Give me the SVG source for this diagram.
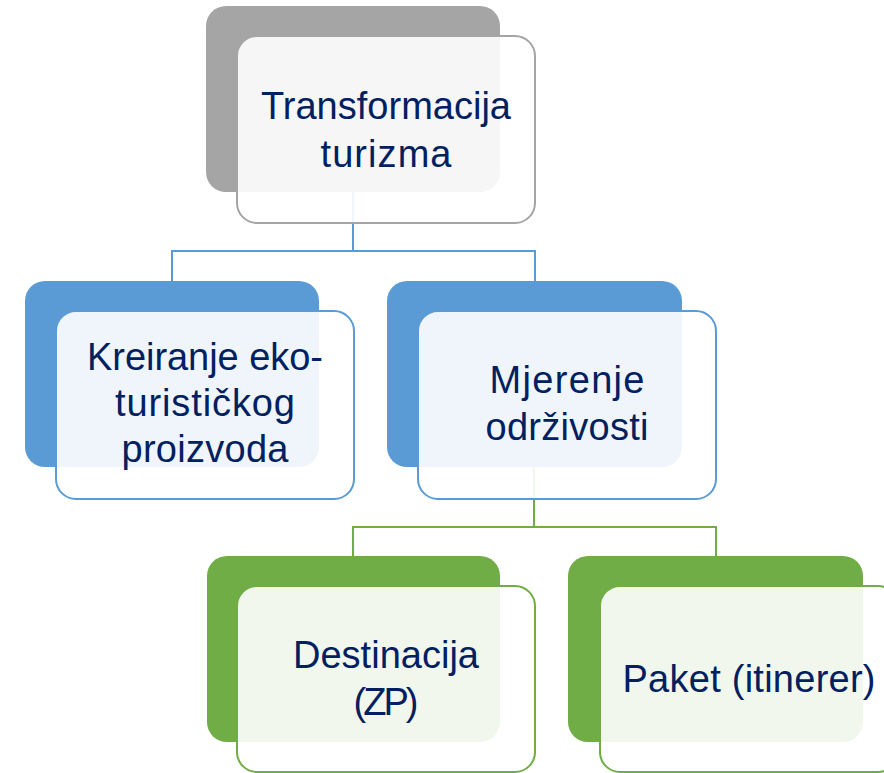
<svg xmlns="http://www.w3.org/2000/svg" width="884" height="773" viewBox="0 0 884 773">
<style>
.bg{fill:#ffffff}
.conn{fill:none;stroke-width:2}
.cb{stroke:#5b9bd5}
.cg{stroke:#70ad47}
.back{stroke:none}
.front{fill:#ffffff;fill-opacity:0.9;stroke-width:2}
.gray .back{fill:#a5a5a5}.gray .front{stroke:#a5a5a5}
.blue .back{fill:#5b9bd5}.blue .front{stroke:#5b9bd5}
.green .back{fill:#70ad47}.green .front{stroke:#70ad47}
text{font-family:"Liberation Sans",Arial,sans-serif;font-size:38px;fill:#002060;text-anchor:middle}
</style>
<rect class="bg" x="0" y="0" width="884" height="773"/>
<g id="connectors">
<path class="conn cb" d="M353,190 V251 H172 V281 M353,251 H535 V281"/>
<path class="conn cg" d="M534,466 V527 H353 V556 M534,527 H716 V556"/>
</g>
<g id="node-transformacija" class="gray">
<rect class="back" x="206" y="6" width="294" height="186" rx="20"/>
<rect class="front" x="237" y="36" width="298" height="187" rx="20"/>
<text x="386" y="119" textLength="250">Transformacija</text>
<text x="386" y="167" textLength="131">turizma</text>
</g>
<g id="node-kreiranje" class="blue">
<rect class="back" x="25" y="281" width="294" height="186" rx="20"/>
<rect class="front" x="56" y="311" width="298" height="188" rx="20"/>
<text x="205" y="370" textLength="236">Kreiranje eko-</text>
<text x="205" y="416" textLength="180">turističkog</text>
<text x="205" y="462" textLength="167">proizvoda</text>
</g>
<g id="node-mjerenje" class="blue">
<rect class="back" x="387" y="281" width="295" height="186" rx="20"/>
<rect class="front" x="418" y="311" width="298" height="188" rx="20"/>
<text x="567" y="393" textLength="155">Mjerenje</text>
<text x="567" y="440" textLength="163">održivosti</text>
</g>
<g id="node-destinacija" class="green">
<rect class="back" x="207" y="556" width="293" height="186" rx="20"/>
<rect class="front" x="237" y="586" width="298" height="186" rx="20"/>
<text x="386" y="668" textLength="186">Destinacija</text>
<text x="386" y="715" textLength="65">(ZP)</text>
</g>
<g id="node-paket" class="green">
<rect class="back" x="568" y="556" width="295" height="186" rx="20"/>
<rect class="front" x="600" y="586" width="298" height="186" rx="20"/>
<text x="749" y="692" textLength="253">Paket (itinerer)</text>
</g>
</svg>
